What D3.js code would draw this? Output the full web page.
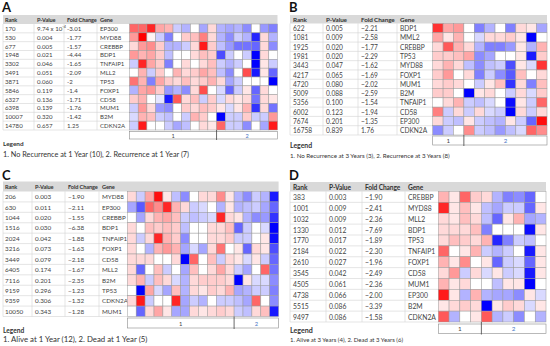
<!DOCTYPE html>
<html>
<head>
<meta charset="utf-8">
<script src="https://cdn.jsdelivr.net/npm/d3@7"></script>
<style>
  body { margin: 0; background: #fff; }
  svg { display: block; font-family: Lato, "Open Sans", sans-serif; }
</style>
</head>
<body>
<svg id="chart" width="550" height="346"></svg>
<script>
// ---- Panel A: recurrence at 1 year ----
const genesA = ["EP300","MYD88","CREBBP","BDP1","TNFAIP1","MLL2","TP53","FOXP1","CD58","MUM1","B2M","CDKN2A"];
const ranksA = [170,530,677,1948,3302,3491,3871,5846,6327,6398,10007,14780];
const pvalsA = [0.000974,0.004,0.005,0.021,0.046,0.051,0.060,0.119,0.136,0.139,0.320,0.657];
const foldsA = [-3.01,-1.77,-1.57,-4.44,-1.65,-2.09,-2,-1.4,-1.71,-1.76,-1.42,1.25];
const groupsA = [10, 7];
const legendA = "1. No Recurrence at 1 Year (10), 2. Recurrence at 1 Year (7)";
const heatA = [
  [ 0.6, 0.6, 0.85, 0.35, 0.3,-0.2,-0.3, 0,-0.35, 0.15, -0.3,-0.35,-0.3,-0.45, 0,-0.4,-0.5],
  [ 0.4, 1.0, 0.05,-0.2,-0.5, 0, 0.2, 0.25, 0.5, 0.15, -0.3,-0.45,-0.2,-0.3,-0.85, 0.15,-0.3],
  [ 0.15, 0.4, 0.45, 0.2,-0.3,-0.3,-0.2, 0.15, 0.9, 0.2, -0.25,-0.4,-0.55,-0.55,-0.6, 0.15,-0.45],
  [ 0.4, 0.3, 0.35, 0.2,-0.25, 0, 0, 0.15, 0.25, 0.2, -0.7,-0.2, 0,-0.2,-1.0, 0.15, 0],
  [-0.2, 0.85, 0.35, 0.2,-0.5, 0, 0.15, 0, 0.15, 0.25, -0.2,-0.3,-0.2, 0,-1.0, 0.1,-0.2],
  [ 0, 0.3,-0.2, 0.2, 0, 0.3, 0.15, 0.2, 0.35, 0.25, -0.25,-0.45, 0, 0.7,-0.9, 0.1,-0.6],
  [ 0.55, 0.3,-0.5, 0.35, 0.2, 0.15, 0.25, 0.15, 0.2, 0.3, 0.15,-0.35,-0.2, 0, 0, 0,-1.0],
  [-0.3, 0.35, 0.4, 0.2,-0.4,-0.3,-0.45, 0.15, 0.7, 0, -0.15,-0.6,-0.2, 0.1,-0.6, 0.15, 0],
  [ 0.2, 0.3, 0,-0.1,-0.9, 0.65, 0.15, 0.25,-0.2, 0.2, -0.15, 0.15, 0.1, 0.15,-0.55, 0.15, 0.1],
  [-0.2, 0.4, 0.15,-0.4,-0.45, 0, 0.2, 0.15, 0.25, 0.2, 0.1,-0.15, 0.1, 0.3,-0.8, 0.15,-0.55],
  [-0.15, 0.3, 0.25,-0.2,-0.25, 0,-0.2, 0.3, 0.2, 0, -1.0,-0.2,-0.2, 0.2,-0.2,-0.2, 0.4],
  [-0.2, 0.9, 0, 0,-0.2,-0.35,-0.25, 0, 0.15, 0.1, 0.6,-0.2,-0.2,-0.45, 0,-0.35, 0.9]
];

// ---- Panel B: recurrence at 3 years ----
const genesB = ["BDP1","MML2","CREBBP","TP53","MYD88","FOXP1","MUM1","B2M","TNFAIP1","CD58","EP300","CDKN2A"];
const ranksB = [622,1081,1925,1981,3443,4217,4720,5009,5356,6002,7674,16758];
const pvalsB = [0.005,0.009,0.020,0.020,0.047,0.065,0.080,0.088,0.100,0.123,0.201,0.839];
const foldsB = [-2.21,-2.58,-1.77,-2.29,-1.62,-1.69,-2.02,-2.59,-1.54,-1.94,-1.35,1.76];
const groupsB = [3, 8];
const legendB = "1. No Recurrence at 3 Years (3), 2. Recurrence at 3 Years (8)";
const heatB = [
  [ 0.8, 0.35, 0.4, 0,-0.5,-0.3, 0,-0.5, 0.15, 0.1,-0.35],
  [ 0.35, 0.1, 0.3, 0,-0.15, 0.15, 0.15, 0.2, 0.1,-1.0, 0],
  [ 0.15, 0.65, 0.3, 0.15,-0.3,-0.5,-0.5,-0.4, 0.1,-0.3, 0.3],
  [ 0.2, 0.2, 0.25, 0.35,-0.45,-0.35, 0, 0, 0.1,-0.9, 0.2],
  [ 0.15, 0.3, 0.15,-0.25,-0.45,-0.25,-0.2,-0.7, 0.1,-0.15, 0.8],
  [ 0.2, 0.4, 0, 0.15,-0.5,-0.2,-0.45,-0.65, 0.25, 0, 0.15],
  [ 0.15, 0.2, 0.15, 0,-0.2, 0.1, 0.25,-0.8, 0.15,-0.5, 0.25],
  [ 0.2, 0.2, 0,-1.0, 0.1, 0.15, 0,-0.2, 0.15,-0.15, 0.2],
  [ 0, 0.15, 0.3,-0.2,-0.25,-0.15, 0,-0.95, 0.1,-0.2, 0.6],
  [ 0.5,-0.2, 0.15,-0.2, 0.15,-0.15,-0.2,-1.0, 0.15,-0.2, 0.15],
  [ 0.15,-0.2,-0.25, 0.1,-0.2,-0.25,-0.3, 0.1,-0.2,-0.6, 0.95],
  [-0.45,-0.2, 0, 0.45,-0.2,-0.25,-0.4,-0.25,-0.15, 0.6, 0.45]
];

// ---- Panel C: survival at 1 year ----
const genesC = ["MYD88","EP300","CREBBP","BDP1","TNFAIP1","FOXP1","CD58","MLL2","B2M","TP53","CDKN2A","MUM1"];
const ranksC = [206,630,1044,1516,2024,3216,3449,6405,7116,9159,9359,10050];
const pvalsC = [0.003,0.011,0.020,0.030,0.042,0.073,0.079,0.174,0.201,0.296,0.306,0.343];
const foldsC = [-1.90,-2.11,-1.55,-6.38,-1.88,-1.63,-2.18,-1.67,-2.35,-1.23,-1.32,-1.28];
const groupsC = [12, 5];
const legendC = "1. Alive at 1 Year (12), 2. Dead at 1 Year (5)";
const heatC = [
  [ 0.15,-0.2, 0.35, 0.95, 0.1,-0.25,-0.45, 0, 0.15, 0.15, 0.45, 0.1, -0.3,-0.45,-0.2,-0.3,-0.9],
  [-0.35,-0.65, 0.6, 0.45, 0.85, 0.3, 0.15,-0.2,-0.15, 0,-0.3, 0.1, -0.3,-0.25,-0.2,-0.35,-0.6],
  [ 0,-0.35, 0.15, 0.3, 0.35, 0.25,-0.2,-0.25,-0.2,-0.15, 0.85, 0.15, 0.1,-0.3,-0.45,-0.4,-0.8],
  [ 0.15, 0, 0.25, 0.2, 0.25, 0.2,-0.25, 0, 0, 0.15, 0.15, 0.25, -0.6,-0.2, 0,-0.15,-1.0],
  [ 0.15,-0.2, 0.15, 0.85, 0.3, 0.2,-0.45, 0, 0, 0.15, 0.15, 0.2, -0.2,-0.2, 0, 0.1,-0.95],
  [ 0.15, 0,-0.3, 0.3, 0.4, 0.3,-0.35,-0.15,-0.35, 0.15, 0.55, 0, 0.1,-0.6, 0.15, 0.1,-0.7],
  [ 0.15, 0.15, 0.15, 0, 0, 0.15,-1.0, 0.6, 0, 0.25,-0.2, 0.15, 0.1,-0.15, 0.1,-0.2,-0.6],
  [ 0.15,-0.6, 0, 0.25,-0.2, 0,-0.35, 0.25, 0, 0.15, 0.35, 0.15, -0.2,-0.35, 0, 0.6,-0.55],
  [ 0.15, 0.3,-0.2, 0.25, 0.15,-0.15,-0.3, 0.15, 0.2, 0.2, 0.2, 0.15, -1.0, 0.1,-0.15,-0.15,-0.45],
  [ 0,-1.0, 0.35,-0.15,-0.35, 0.25,-0.3, 0.15, 0.1, 0.2, 0.15, 0.3, -0.35,-0.3,-0.2,-0.2,-0.5],
  [ 0.15, 0.9,-0.2, 0, 0, 0.85,-0.35,-0.2,-0.3, 0,-0.2,-0.2, -0.25,-0.35, 0.6, 0,-0.45],
  [ 0,-0.6, 0.15, 0.35, 0.1,-0.35,-0.35, 0.15, 0.1, 0.15, 0.2, 0.15, -0.2,-0.25, 0.15, 0.25,-0.9]
];

// ---- Panel D: survival at 3 years ----
const genesD = ["CREBBP","MYD88","MLL2","BDP1","TP53","TNFAIP1","FOXP1","CD58","MUM1","EP300","B2M","CDKN2A"];
const ranksD = [383,1001,1032,1330,1770,2184,2610,3545,4505,4738,5515,9497];
const pvalsD = [0.003,0.009,0.009,0.012,0.017,0.022,0.027,0.042,0.061,0.066,0.086,0.086];
const foldsD = [-1.90,-2.41,-2.36,-7.69,-1.89,-2.30,-1.96,-2.49,-2.36,-2.00,-3.39,-1.58];
const groupsD = [4, 6];
const legendD = "1. Alive at 3 Years (4), 2. Dead at 3 Years (6)";
const heatD = [
  [ 0.3, 0.1, 0.6, 0.2, 0.15,-0.3,-0.5,-0.45,-0.6, 0],
  [ 0.85, 0.1, 0.25, 0.1, -0.25,-0.35,-0.2,-0.2,-0.6, 0.1],
  [ 0.15, 0.1, 0.25, 0.15, -0.25,-0.6, 0.1, 0.3,-0.35,-0.3],
  [ 0.15, 0.15, 0.15, 0.25, -0.5, 0, 0, 0,-0.95, 0.1],
  [ 0.15, 0.25, 0.2, 0.15, 0.3,-0.85,-0.5,-0.2,-0.25, 0],
  [ 0.6, 0, 0.1, 0.3, -0.2,-0.3,-0.2, 0,-0.9, 0.1],
  [ 0.3, 0.1, 0.45, 0, 0.1,-0.6,-0.2,-0.15,-0.6, 0.1],
  [ 0.15, 0.4,-0.2, 0.15, -0.15, 0.1,-0.2,-0.15,-0.9, 0.1],
  [ 0.3, 0.1, 0.15, 0, 0,-0.25, 0.1, 0.1,-1.0, 0],
  [ 0.9, 0.1,-0.3, 0.3, -0.3,-0.35,-0.35,-0.45, 0.1,-0.15],
  [ 0.1, 0.15, 0.2, 0.15, -1.0, 0.1, 0.2, 0.15,-0.15, 0.1],
  [ 0.65,-0.3, 0, 0.1, 0.65,-0.3,-0.2,-0.45, 0,-0.3]
];

const headers = ["Rank", "P-Value", "Fold Change", "Gene"];
const color = d3.scaleLinear().domain([-1, 0, 1]).range(["#0000ff", "#ffffff", "#ff0000"]);
const svg = d3.select("#chart");

function drawPanel(p) {
  const g = svg.append("g");
  const nCols = p.heat[0].length;

  // panel letter
  g.append("text").attr("x", p.x - 1).attr("y", p.letterY)
    .attr("font-size", 13).attr("font-weight", "bold").attr("fill", "#111").text(p.letter);

  // header band across table and heatmap
  g.append("rect").attr("x", p.x).attr("y", p.headY)
    .attr("width", p.hx1 - p.x).attr("height", p.y0 - p.headY).attr("fill", "#d9d9d9");
  g.selectAll(".hd").data(headers).enter().append("text")
    .attr("x", (d, i) => p.colX[i]).attr("y", (p.headY + p.y0) / 2)
    .attr("dominant-baseline", "central").attr("font-size", p.hfs).attr("font-weight", "bold")
    .attr("letter-spacing", -0.1).attr("fill", "#333").text(d => d);

  const y = d3.scaleBand().domain(p.genes).range([p.y0, p.y1]);
  const x = d3.scaleBand().domain(d3.range(nCols)).range([p.hx0, p.hx1]);

  // table grid
  g.selectAll(".hl").data(p.genes).enter().append("line")
    .attr("x1", p.x).attr("x2", p.hx0).attr("y1", d => y(d) + y.bandwidth()).attr("y2", d => y(d) + y.bandwidth())
    .attr("stroke", "#d4d4d4").attr("stroke-width", 0.6);
  g.selectAll(".vl").data([p.x].concat(p.colX.slice(1).map(c => c - 3))).enter().append("line")
    .attr("x1", d => d).attr("x2", d => d).attr("y1", p.y0).attr("y2", p.y1)
    .attr("stroke", "#d4d4d4").attr("stroke-width", 0.6);

  // table text
  const rows = p.genes.map((gene, i) => ({
    gene, rank: p.ranks[i], p: p.pvals[i], fold: p.folds[i]
  }));
  const row = g.selectAll(".row").data(rows).enter().append("g")
    .attr("transform", d => `translate(0,${y(d.gene) + y.bandwidth() / 2})`)
    .attr("font-size", p.fs).attr("fill", "#444");
  row.append("text").attr("x", p.colX[0]).attr("dominant-baseline", "central").text(d => d.rank);
  row.append("text").attr("x", p.colX[1]).attr("dominant-baseline", "central").each(function(d) {
    const t = d3.select(this);
    if (d.p < 0.001) {
      const [m, e] = d.p.toExponential(2).split("e");
      t.append("tspan").text(m + " x 10");
      t.append("tspan").attr("dy", -2.5).attr("font-size", p.fs * 0.65).text(String(+e));
    } else {
      t.text(d3.format(".3f")(d.p));
    }
  });
  row.append("text").attr("x", p.colX[2]).attr("dominant-baseline", "central").text(d => p.foldFmt(d.fold));
  row.append("text").attr("x", p.colX[3]).attr("dominant-baseline", "central").text(d => d.gene);

  // heatmap cells
  const cells = [];
  p.heat.forEach((r, i) => r.forEach((v, j) => cells.push({ gene: p.genes[i], col: j, v })));
  g.selectAll(".cell").data(cells).enter().append("rect")
    .attr("x", d => x(d.col)).attr("y", d => y(d.gene))
    .attr("width", x.bandwidth()).attr("height", y.bandwidth())
    .attr("fill", d => color(d.v)).attr("stroke", "#9a9a9a").attr("stroke-width", 0.5);

  // group bar below heatmap
  g.append("rect").attr("x", p.hx0).attr("y", p.barY).attr("width", p.hx1 - p.hx0).attr("height", p.barH)
    .attr("fill", "#fff").attr("stroke", "#8a8a8a").attr("stroke-width", 0.6);
  const split = x(p.groups[0]);
  g.append("line").attr("x1", split).attr("x2", split).attr("y1", p.y1).attr("y2", p.barY + p.barH + 1)
    .attr("stroke", "#444").attr("stroke-width", 0.8);
  const spans = [[p.hx0, split], [split, p.hx1]];
  g.selectAll(".gl").data(spans).enter().append("text")
    .attr("x", d => (d[0] + d[1]) / 2).attr("y", p.barY + p.barH / 2)
    .attr("text-anchor", "middle").attr("dominant-baseline", "central")
    .attr("font-size", p.fs - 0.5).attr("fill", (d, i) => i ? "#4472c4" : "#444").text((d, i) => i + 1);

  // legend
  g.append("text").attr("x", p.x).attr("y", p.legY).attr("font-size", p.fs + 0.3)
    .attr("font-weight", "bold").attr("fill", "#333").text("Legend");
  g.append("text").attr("x", p.x).attr("y", p.legY2).attr("font-size", p.legFs)
    .attr("fill", "#333").text(p.legend);
}

const fmt2 = d3.format(".2f");

drawPanel({ letter: "A", genes: genesA, ranks: ranksA, pvals: pvalsA, folds: foldsA, heat: heatA,
  groups: groupsA, legend: legendA, foldFmt: String,
  x: 3, letterY: 12, headY: 15, y0: 24, y1: 130, colX: [5, 37, 67, 100],
  hx0: 129.5, hx1: 277.5, barY: 131.5, barH: 7.5, legY: 146, legY2: 157, fs: 6.1, hfs: 5.6, legFs: 7.3 });

drawPanel({ letter: "B", genes: genesB, ranks: ranksB, pvals: pvalsB, folds: foldsB, heat: heatB,
  groups: groupsB, legend: legendB, foldFmt: fmt2,
  x: 290, letterY: 12, headY: 15, y0: 23.5, y1: 135, colX: [293, 326, 361, 400],
  hx0: 432.7, hx1: 547, barY: 136, barH: 9, legY: 148, legY2: 157.5, fs: 6.6, hfs: 6.3, legFs: 6.2 });

drawPanel({ letter: "C", genes: genesC, ranks: ranksC, pvals: pvalsC, folds: foldsC, heat: heatC,
  groups: groupsC, legend: legendC, foldFmt: fmt2,
  x: 3, letterY: 180, headY: 181.5, y0: 191.5, y1: 316.5, colX: [5, 35, 68, 102],
  hx0: 127.3, hx1: 278.6, barY: 318, barH: 10, legY: 332.5, legY2: 341.5, fs: 6.3, hfs: 5.6, legFs: 7.8 });

drawPanel({ letter: "D", genes: genesD, ranks: ranksD, pvals: pvalsD, folds: foldsD, heat: heatD,
  groups: groupsD, legend: legendD, foldFmt: fmt2,
  x: 290, letterY: 180, headY: 182, y0: 191.5, y1: 322, colX: [293, 329, 365, 408],
  hx0: 438.3, hx1: 546, barY: 324, barH: 9.5, legY: 332.5, legY2: 341.5, fs: 6.8, hfs: 6.6, legFs: 6 });
</script>
</body>
</html>
